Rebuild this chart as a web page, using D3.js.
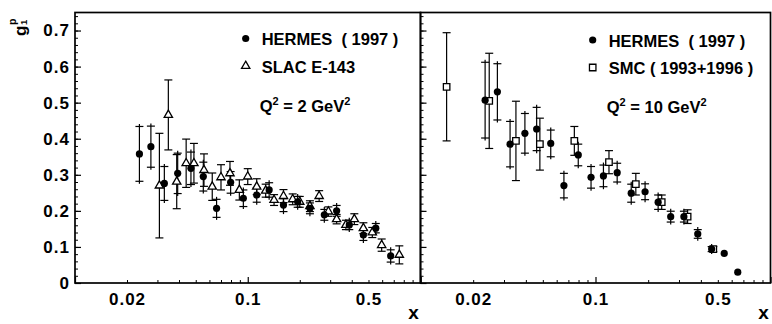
<!DOCTYPE html>
<html>
<head>
<meta charset="utf-8">
<script src="https://cdn.jsdelivr.net/npm/d3@7"></script>
<style>
  body { margin: 0; background: #fff; }
  text { font-family: "Liberation Sans", Arial, Helvetica, sans-serif; font-weight: bold; fill: #000; }
</style>
</head>
<body>
<svg id="chart" width="772" height="324"></svg>
<script>
// g1 of the proton vs Bjorken x, two Q^2 panels

// Panel 1: Q^2 = 2 GeV^2
const hermes2X   = [0.0236, 0.0275, 0.0329, 0.0393, 0.0469, 0.0553, 0.066, 0.0796, 0.0943, 0.1127, 0.133, 0.161, 0.1945, 0.229, 0.2775, 0.327, 0.387, 0.467, 0.551, 0.672];
const hermes2G   = [0.358, 0.378, 0.276, 0.304, 0.318, 0.295, 0.207, 0.279, 0.235, 0.244, 0.258, 0.216, 0.225, 0.207, 0.189, 0.2, 0.161, 0.133, 0.152, 0.075];
const hermes2Err = [0.076, 0.057, 0.047, 0.056, 0.045, 0.04, 0.025, 0.03, 0.023, 0.02, 0.02, 0.018, 0.015, 0.015, 0.015, 0.015, 0.013, 0.015, 0.013, 0.017];

const slacX   = [0.0308, 0.0347, 0.0388, 0.044, 0.0488, 0.0558, 0.0623, 0.07, 0.0789, 0.0894, 0.1, 0.1127, 0.127, 0.142, 0.161, 0.182, 0.2, 0.229, 0.259, 0.293, 0.327, 0.37, 0.414, 0.467, 0.526, 0.596, 0.754];
const slacG   = [0.27, 0.466, 0.281, 0.332, 0.332, 0.313, 0.267, 0.293, 0.304, 0.258, 0.295, 0.267, 0.256, 0.23, 0.241, 0.232, 0.225, 0.213, 0.241, 0.198, 0.177, 0.161, 0.177, 0.152, 0.14, 0.105, 0.078];
const slacErr = [0.145, 0.097, 0.075, 0.067, 0.055, 0.045, 0.038, 0.035, 0.033, 0.028, 0.022, 0.022, 0.018, 0.015, 0.018, 0.015, 0.015, 0.015, 0.015, 0.013, 0.013, 0.013, 0.015, 0.015, 0.014, 0.017, 0.025];

// Panel 2: Q^2 = 10 GeV^2
const hermes10X   = [0.0234, 0.0275, 0.0325, 0.0395, 0.0461, 0.0555, 0.066, 0.0797, 0.0943, 0.111, 0.133, 0.16, 0.192, 0.228, 0.269, 0.32, 0.384, 0.461, 0.544, 0.65];
const hermes10G   = [0.507, 0.53, 0.385, 0.415, 0.427, 0.387, 0.27, 0.355, 0.293, 0.297, 0.306, 0.249, 0.253, 0.224, 0.184, 0.184, 0.136, 0.094, 0.082, 0.03];
const hermes10Err = [0.105, 0.078, 0.063, 0.055, 0.06, 0.037, 0.034, 0.03, 0.03, 0.03, 0.026, 0.025, 0.022, 0.02, 0.015, 0.015, 0.012, 0.007, 0, 0];

const smcX   = [0.0141, 0.0247, 0.0351, 0.0481, 0.0757, 0.1194, 0.170, 0.239, 0.336, 0.471];
const smcG   = [0.544, 0.505, 0.394, 0.385, 0.394, 0.335, 0.274, 0.224, 0.184, 0.094];
const smcErr = [0.15, 0.132, 0.11, 0.072, 0.04, 0.032, 0.03, 0.02, 0.019, 0.007];

// Axis ticks and labels
const xLabelTicks = [0.02, 0.1, 0.5];
const xMajorTicks = [0.01, 0.1, 1];
const xMinorTicks = [0.02,0.03,0.04,0.05,0.06,0.07,0.08,0.09,0.2,0.3,0.4,0.5,0.6,0.7,0.8,0.9];
const yMajorTicks = [0, 0.1, 0.2, 0.3, 0.4, 0.5, 0.6, 0.7];
const yMinorTicks = d3.range(0, 0.751, 0.02);

const legend2  = ["HERMES  ( 1997 )", "SLAC E-143"];
const legend10 = ["HERMES  ( 1997 )", "SMC ( 1993+1996 )"];
const q2Values = [2, 10];

const svg = d3.select("#chart");
const y = d3.scaleLinear().domain([0, 0.75]).range([283, 12.5]);
const xL = d3.scaleLog().domain([0.01, 1]).range([75, 420.5]);
const xR = d3.scaleLog().domain([0.01, 1]).range([420.5, 770.5]);

function zip(xs, gs, es) { return xs.map((x, i) => ({ x, g: gs[i], e: es[i] })); }

function drawFrame(x) {
  const [x0, x1] = x.range();
  // y ticks, pointing into the panel from its left edge
  svg.append("g").attr("transform", `translate(${x0},0)`)
    .call(d3.axisRight(y).tickValues(yMinorTicks).tickSize(3).tickFormat(""))
    .call(g => g.select(".domain").remove())
    .selectAll("line").attr("stroke", "#000").attr("stroke-width", 1);
  svg.append("g").attr("transform", `translate(${x0},0)`)
    .call(d3.axisRight(y).tickValues(yMajorTicks).tickSize(6).tickFormat(""))
    .call(g => g.select(".domain").remove())
    .selectAll("line").attr("stroke", "#000").attr("stroke-width", 1.2);
  // x ticks, pointing up from the bottom edge
  svg.append("g").attr("transform", `translate(0,${y(0)})`)
    .call(d3.axisTop(x).tickValues(xMinorTicks).tickSize(3).tickFormat(""))
    .call(g => g.select(".domain").remove())
    .selectAll("line").attr("stroke", "#000").attr("stroke-width", 1);
  svg.append("g").attr("transform", `translate(0,${y(0)})`)
    .call(d3.axisTop(x).tickValues(xMajorTicks).tickSize(6).tickFormat(""))
    .call(g => g.select(".domain").remove())
    .selectAll("line").attr("stroke", "#000").attr("stroke-width", 1.2);
  // x tick labels
  svg.append("g").attr("transform", `translate(0,${y(0)})`)
    .call(d3.axisBottom(x).tickValues(xLabelTicks).tickSize(0).tickPadding(10).tickFormat(d3.format("~g")))
    .call(g => g.select(".domain").remove())
    .selectAll("text").attr("font-size", 17).attr("letter-spacing", 1)
    .attr("font-family", null).attr("fill", "#000");
  // panel border
  svg.append("rect")
    .attr("x", x0).attr("y", y.range()[1])
    .attr("width", x1 - x0).attr("height", y(0) - y.range()[1])
    .attr("fill", "none").attr("stroke", "#000").attr("stroke-width", 1.7);
  svg.append("text").attr("x", x1 - 7).attr("y", 319)
    .attr("text-anchor", "middle").attr("font-size", 19).text("x");
}

function errorBars(x, data, style) {
  const g = svg.append("g").attr("stroke", "#000").attr("fill", "none");
  const ext = style === "cross" ? 2.5 : 0;
  data.filter(d => d.e > 0).forEach(d => {
    const cx = x(d.x), yt = y(d.g + d.e), yb = y(d.g - d.e);
    g.append("line").attr("x1", cx).attr("x2", cx).attr("y1", yt - ext).attr("y2", yb + ext).attr("stroke-width", 1.2);
    [yt, yb].forEach(yy => g.append("line")
      .attr("x1", cx - 4).attr("x2", cx + 4).attr("y1", yy).attr("y2", yy).attr("stroke-width", 1.2));
  });
}

const triangle = d3.symbol().type(d3.symbolTriangle).size(30);
const square = d3.symbol().type(d3.symbolSquare).size(42);

function circles(x, data) {
  svg.append("g").selectAll("circle").data(data).join("circle")
    .attr("cx", d => x(d.x)).attr("cy", d => y(d.g)).attr("r", 3.6).attr("fill", "#000");
}
function openSymbols(x, data, sym) {
  svg.append("g").selectAll("path").data(data).join("path")
    .attr("transform", d => `translate(${x(d.x)},${y(d.g)})`)
    .attr("d", sym).attr("fill", "#fff").attr("stroke", "#000").attr("stroke-width", 1.3);
}

function legend(x0, labels, sym, q2, baseY) {
  svg.append("circle").attr("cx", x0).attr("cy", baseY - 6.5).attr("r", 3.6).attr("fill", "#000");
  svg.append("path").attr("transform", `translate(${x0},${baseY + 21})`)
    .attr("d", sym).attr("fill", "#fff").attr("stroke", "#000").attr("stroke-width", 1.3);
  labels.forEach((t, i) => svg.append("text")
    .attr("x", x0 + 16).attr("y", baseY + i * 27.5).attr("font-size", 16.5)
    .style("white-space", "pre").text(t));
  const q = svg.append("text").attr("x", x0 + 14).attr("y", baseY + 66.5).attr("font-size", 16.5);
  q.append("tspan").text("Q");
  q.append("tspan").attr("font-size", 11).attr("dy", -7).text("2");
  q.append("tspan").attr("dy", 7).text(` = ${q2} GeV`);
  q.append("tspan").attr("font-size", 11).attr("dy", -7).text("2");
}

// Panel 1
drawFrame(xL);
const slacData = zip(slacX, slacG, slacErr);
const hermes2Data = zip(hermes2X, hermes2G, hermes2Err);
errorBars(xL, slacData, "cap");
errorBars(xL, hermes2Data, "cross");
openSymbols(xL, slacData, triangle);
circles(xL, hermes2Data);
legend(245.7, legend2, triangle, q2Values[0], 45);

// Panel 2
drawFrame(xR);
const smcData = zip(smcX, smcG, smcErr);
const hermes10Data = zip(hermes10X, hermes10G, hermes10Err);
errorBars(xR, smcData, "cap");
errorBars(xR, hermes10Data, "cross");
openSymbols(xR, smcData, square);
circles(xR, hermes10Data);
legend(592.7, legend10, square, q2Values[1], 46.5);

// y tick labels
svg.append("g").attr("transform", `translate(${xL.range()[0]},0)`)
  .call(d3.axisLeft(y).tickValues(yMajorTicks).tickSize(0).tickPadding(5)
    .tickFormat(d => d === 0 ? "0" : d3.format(".1f")(d)))
  .call(g => g.select(".domain").remove())
  .selectAll("text").attr("font-size", 17).attr("letter-spacing", 1)
  .attr("font-family", null).attr("fill", "#000");

// y axis title: g1^p, rotated
const title = svg.append("g").attr("transform", "translate(26,36) rotate(-90)");
title.append("text").attr("x", 0).attr("y", 0).attr("font-size", 17).text("g");
title.append("text").attr("x", 11).attr("y", -10).attr("font-size", 10.5).text("p");
title.append("text").attr("x", 11).attr("y", 0.5).attr("font-size", 9.5).text("1");
</script>
</body>
</html>
